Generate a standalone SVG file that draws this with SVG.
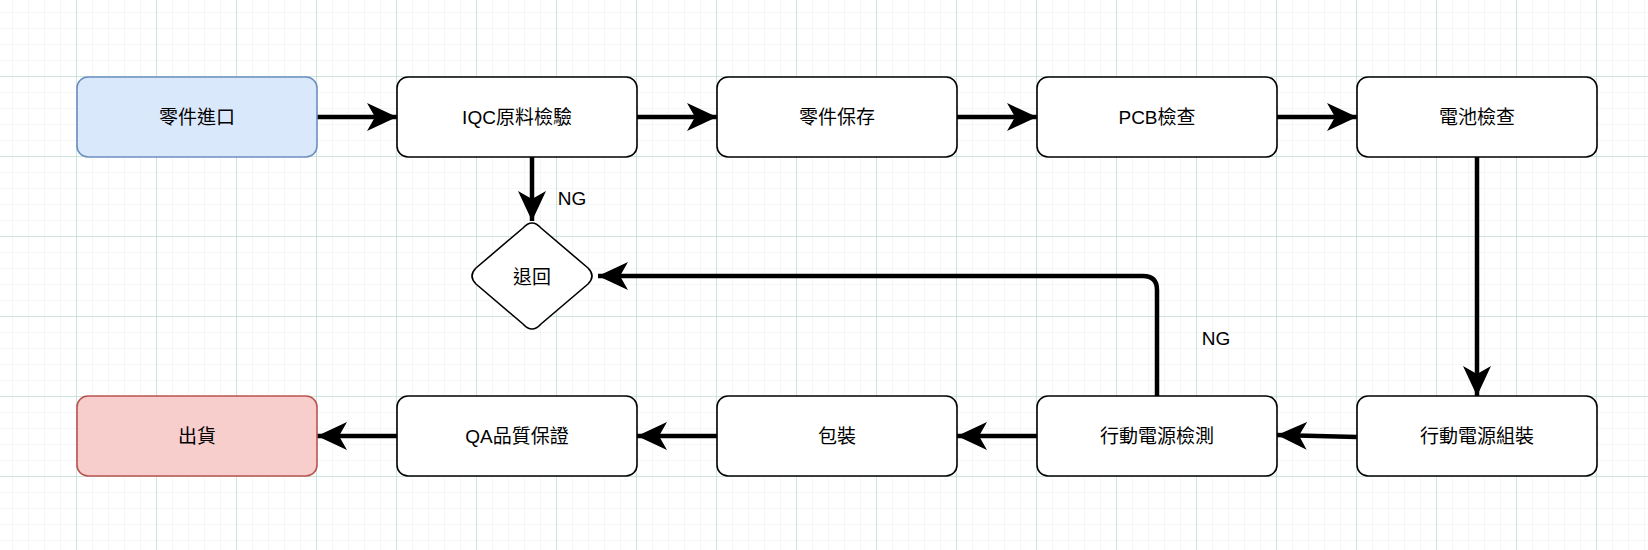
<svg xmlns="http://www.w3.org/2000/svg" width="1648" height="550" viewBox="0 0 1648 550">
<defs>
<pattern id="minor" x="-3" y="-3" width="16" height="16" patternUnits="userSpaceOnUse"><path d="M16 0V16M0 16H16" fill="none" stroke="#e6efec" stroke-width="1"/></pattern>
<pattern id="major" x="-3" y="-3" width="80" height="80" patternUnits="userSpaceOnUse"><path d="M80 0V80M0 80H80" fill="none" stroke="#a9d2c6" stroke-width="1"/></pattern>
<marker id="ah" markerUnits="userSpaceOnUse" markerWidth="34" markerHeight="34" refX="30" refY="17" orient="auto"><path d="M0 3L30 17L0 31L8 17Z" fill="#000"/></marker>
</defs>
<style>
.n{fill:#fff;stroke:#000;stroke-width:1.6}
.t{font-family:"Liberation Sans","Noto Sans CJK TC",sans-serif;font-size:19px;text-anchor:middle;dominant-baseline:central;fill:#000}
.c path{fill:none;stroke:#000;stroke-width:4.5;marker-end:url(#ah)}
</style>
<rect width="1648" height="550" fill="#fff"/>
<rect width="1648" height="550" fill="url(#minor)"/>
<rect width="1648" height="550" fill="url(#major)"/>
<g class="c">
<path d="M317 117H397"/>
<path d="M637 117H717"/>
<path d="M957 117H1037"/>
<path d="M1277 117H1357"/>
<path d="M532 157L532 221"/>
<path d="M1477 157V396"/>
<path d="M1357 437L1277 435"/>
<path d="M1037 436H957"/>
<path d="M717 436H637"/>
<path d="M397 436H317"/>
<path d="M1157 396V290Q1157 276 1143 276H598"/>
</g>
<text class="t" x="572" y="198">NG</text>
<text class="t" x="1216" y="338">NG</text>
<g id="n1"><rect x="77" y="77" width="240" height="80" rx="11" fill="#dae8fc" stroke="#6c8ebf" stroke-width="1.6"/><text class="t" x="197" y="117">零件進口</text></g>
<g id="n2"><rect class="n" x="397" y="77" width="240" height="80" rx="11"/><text class="t" x="517" y="117">IQC原料檢驗</text></g>
<g id="n3"><rect class="n" x="717" y="77" width="240" height="80" rx="11"/><text class="t" x="837" y="117">零件保存</text></g>
<g id="n4"><rect class="n" x="1037" y="77" width="240" height="80" rx="11"/><text class="t" x="1157" y="117">PCB檢查</text></g>
<g id="n5"><rect class="n" x="1357" y="77" width="240" height="80" rx="11"/><text class="t" x="1477" y="117">電池檢查</text></g>
<g id="d1"><path class="n" d="M523 228Q532 218 541 228L588 268Q596 276 588 284L541 324Q532 334 523 324L476 284Q468 276 476 268Z"/><text class="t" x="532" y="277">退回</text></g>
<g id="n6"><rect x="77" y="396" width="240" height="80" rx="11" fill="#f8cecc" stroke="#b85450" stroke-width="1.6"/><text class="t" x="197" y="436">出貨</text></g>
<g id="n7"><rect class="n" x="397" y="396" width="240" height="80" rx="11"/><text class="t" x="517" y="436">QA品質保證</text></g>
<g id="n8"><rect class="n" x="717" y="396" width="240" height="80" rx="11"/><text class="t" x="837" y="436">包裝</text></g>
<g id="n9"><rect class="n" x="1037" y="396" width="240" height="80" rx="11"/><text class="t" x="1157" y="436">行動電源檢測</text></g>
<g id="n10"><rect class="n" x="1357" y="396" width="240" height="80" rx="11"/><text class="t" x="1477" y="436">行動電源組裝</text></g>
</svg>
